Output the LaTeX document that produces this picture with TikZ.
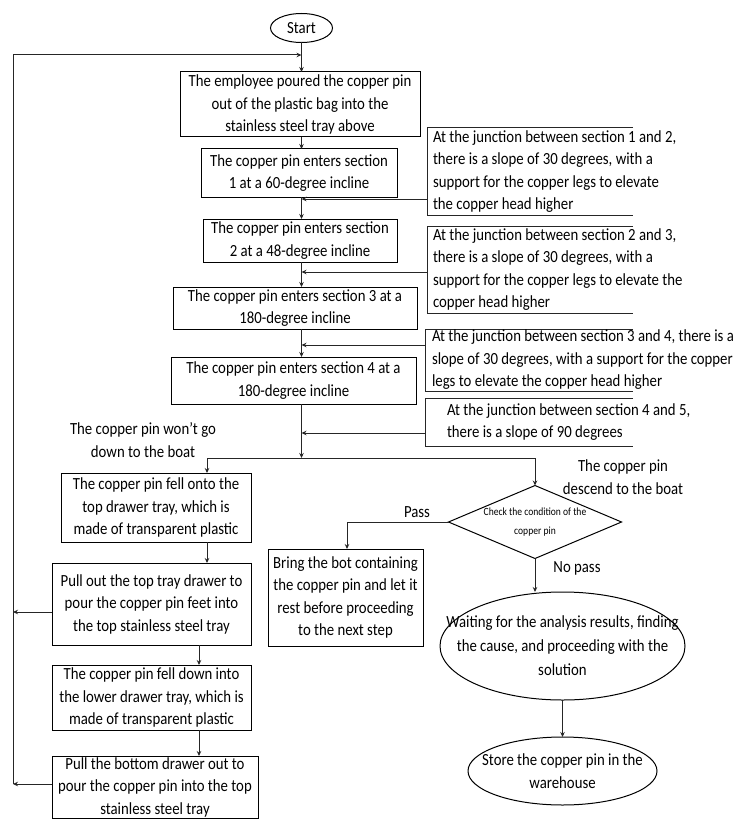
\documentclass[tikz,border=0pt]{standalone}
\usepackage{fontspec}
\setmainfont[FakeStretch=0.87]{Carlito}
\usetikzlibrary{arrows.meta,shapes.geometric}
\begin{document}
\begin{tikzpicture}[x=1pt,y=-1pt,
  every node/.style={font=\fontsize{17}{22.5}\selectfont, inner sep=0pt, outer sep=0pt},
  proc/.style={draw, line width=1pt, align=center},
  term/.style={draw, ellipse, line width=1pt},
  decide/.style={draw, diamond, line width=1pt},
  bracketbox/.style={draw=none},
  notetxt/.style={align=left},
  lbl/.style={align=center},
  line/.style={draw=black!85, line width=1pt},
  arr/.style={line, -{Stealth[length=5pt,width=4.5pt]}}
]
\useasboundingbox (0,0) rectangle (737,821);

% main column
\node[term, minimum width=62pt, minimum height=29pt] (start) at (301.5,28) {Start};
\node[proc, minimum width=240pt, minimum height=65pt] (B1) at (300,104.5) {The employee poured the copper pin\\out of the plastic bag into the\\stainless steel tray above};
\node[proc, minimum width=196pt, minimum height=48pt] (B2) at (299,173) {The copper pin enters section\\1 at a 60-degree incline};
\node[proc, minimum width=194pt, minimum height=43pt] (B3) at (300,240.5) {The copper pin enters section\\2 at a 48-degree incline};
\node[proc, minimum width=244pt, minimum height=42pt] (B4) at (295,308) {The copper pin enters section 3 at a\\180-degree incline};
\node[proc, minimum width=245pt, minimum height=47pt] (B5) at (293.5,380.5) {The copper pin enters section 4 at a\\180-degree incline};

% notes
\node[bracketbox, minimum width=206pt, minimum height=87pt] (N1) at (530,171.5) {};
\node[bracketbox, minimum width=206pt, minimum height=87pt] (N2) at (530,269.5) {};
\node[bracketbox, minimum width=208pt, minimum height=62pt] (N3) at (529,360) {};
\node[bracketbox, minimum width=208pt, minimum height=48pt] (N4) at (529,422) {};
\foreach \n in {N1,N2,N3,N4}{
  \draw[line] (\n.north east) -- (\n.north west) -- (\n.south west) -- (\n.south east);
}
\node[notetxt, anchor=west] (T1) at ([xshift=6pt]N1.west) {At the junction between section 1 and 2,\\there is a slope of 30 degrees, with a\\support for the copper legs to elevate\\the copper head higher};
\node[notetxt, anchor=west] (T2) at ([xshift=6pt]N2.west) {At the junction between section 2 and 3,\\there is a slope of 30 degrees, with a\\support for the copper legs to elevate the\\copper head higher};
\node[notetxt, anchor=west] (T3) at ([xshift=7pt]N3.west) {At the junction between section 3 and 4, there is a\\slope of 30 degrees, with a support for the copper\\legs to elevate the copper head higher};
\node[notetxt, anchor=west] (T4) at ([xshift=22pt]N4.west) {At the junction between section 4 and 5,\\there is a slope of 90 degrees};

% left column
\node[proc, minimum width=190pt, minimum height=69pt] (B6) at (156,507.5) {The copper pin fell onto the\\top drawer tray, which is\\made of transparent plastic};
\node[proc, minimum width=199pt, minimum height=82pt] (B7) at (151.5,604) {Pull out the top tray drawer to\\pour the copper pin feet into\\the top stainless steel tray};
\node[proc, minimum width=199pt, minimum height=65pt] (B8) at (151.5,697.5) {The copper pin fell down into\\the lower drawer tray, which is\\made of transparent plastic};
\node[proc, minimum width=206pt, minimum height=62pt] (B9) at (155,787) {Pull the bottom drawer out to\\pour the copper pin into the top\\stainless steel tray};

% right part
\node[decide, minimum width=173pt, minimum height=73pt] (D) at (535,522) {};
\node[lbl, font=\fontsize{11}{19}\selectfont] (Dt) at (D.center) {Check the condition of the\\copper pin};
\node[proc, minimum width=155pt, minimum height=97pt] (B10) at (345.5,597.5) {Bring the bot containing\\the copper pin and let it\\rest before proceeding\\to the next step};
\node[term, minimum width=245pt, minimum height=108pt] (E1) at (562.5,646) {};
\node[lbl, font=\fontsize{17}{24}\selectfont] (E1t) at (E1.center) {Waiting for the analysis results, finding\\the cause, and proceeding with the\\solution};
\node[term, minimum width=189pt, minimum height=68pt] (E2) at (562.5,771) {};
\node[lbl, font=\fontsize{17}{23}\selectfont] (E2t) at (E2.center) {Store the copper pin in the\\warehouse};

% labels
\node[lbl] (Lw) at (143,440) {The copper pin won't go\\down to the boat};
\node[lbl] (Ld) at (623,477) {The copper pin\\descend to the boat};
\node[lbl] (Lp) at (417,512) {Pass};
\node[lbl] (Ln) at (577,568) {No pass};

% coordinates
\coordinate (L1) at (13,55);
\coordinate (L2) at (13,612);
\coordinate (L3) at (13,784);
\coordinate (m0) at (301.5,55);
\coordinate (j1) at (301.5,199);
\coordinate (j2) at (301.5,272);
\coordinate (j3) at (301.5,345);
\coordinate (j4) at (301.5,433);
\coordinate (s) at (301.5,458);
\coordinate (sl) at (207,458);
\coordinate (sr) at (535,458);
\coordinate (k) at (199,650);
\coordinate (p) at (347,522);

% connectors
\draw[arr] (start.south) -- (B1.north -| start.south);
\draw[line] (L3) -- (L1);
\draw[arr] (L1) -- (m0);
\draw[arr] (B7.west |- L2) -- (L2);
\draw[arr] (B9.west |- L3) -- (L3);
\draw[arr] (B1.south -| j1) -- (B2.north -| j1);
\draw[arr] (B2.south -| j1) -- (B3.north -| j1);
\draw[arr] (N1.west |- j1) -- (j1);
\draw[arr] (B3.south -| j1) -- (B4.north -| j1);
\draw[arr] (N2.west |- j2) -- (j2);
\draw[arr] (B4.south -| j1) -- (B5.north -| j1);
\draw[arr] (N3.west |- j3) -- (j3);
\draw[arr] (B5.south -| j1) -- (s);
\draw[arr] (N4.west |- j4) -- (j4);
\draw[line] (sl) -- (sr);
\draw[arr] (sl) -- (B6.north -| sl);
\draw[arr] (sr) -- (D.north);
\draw[arr] (B6.south -| sl) -- (B7.north -| sl);
\draw[arr] (B7.south -| k) -- (B8.north -| k);
\draw[arr] (B8.south -| k) -- (B9.north -| k);
\draw[arr] (D.west) -- (p) -- (B10.north -| p);
\draw[arr] (D.south) -- (D.south |- E1.north);
\draw[arr] (E1.south) -- (E2.north);
\end{tikzpicture}
\end{document}
